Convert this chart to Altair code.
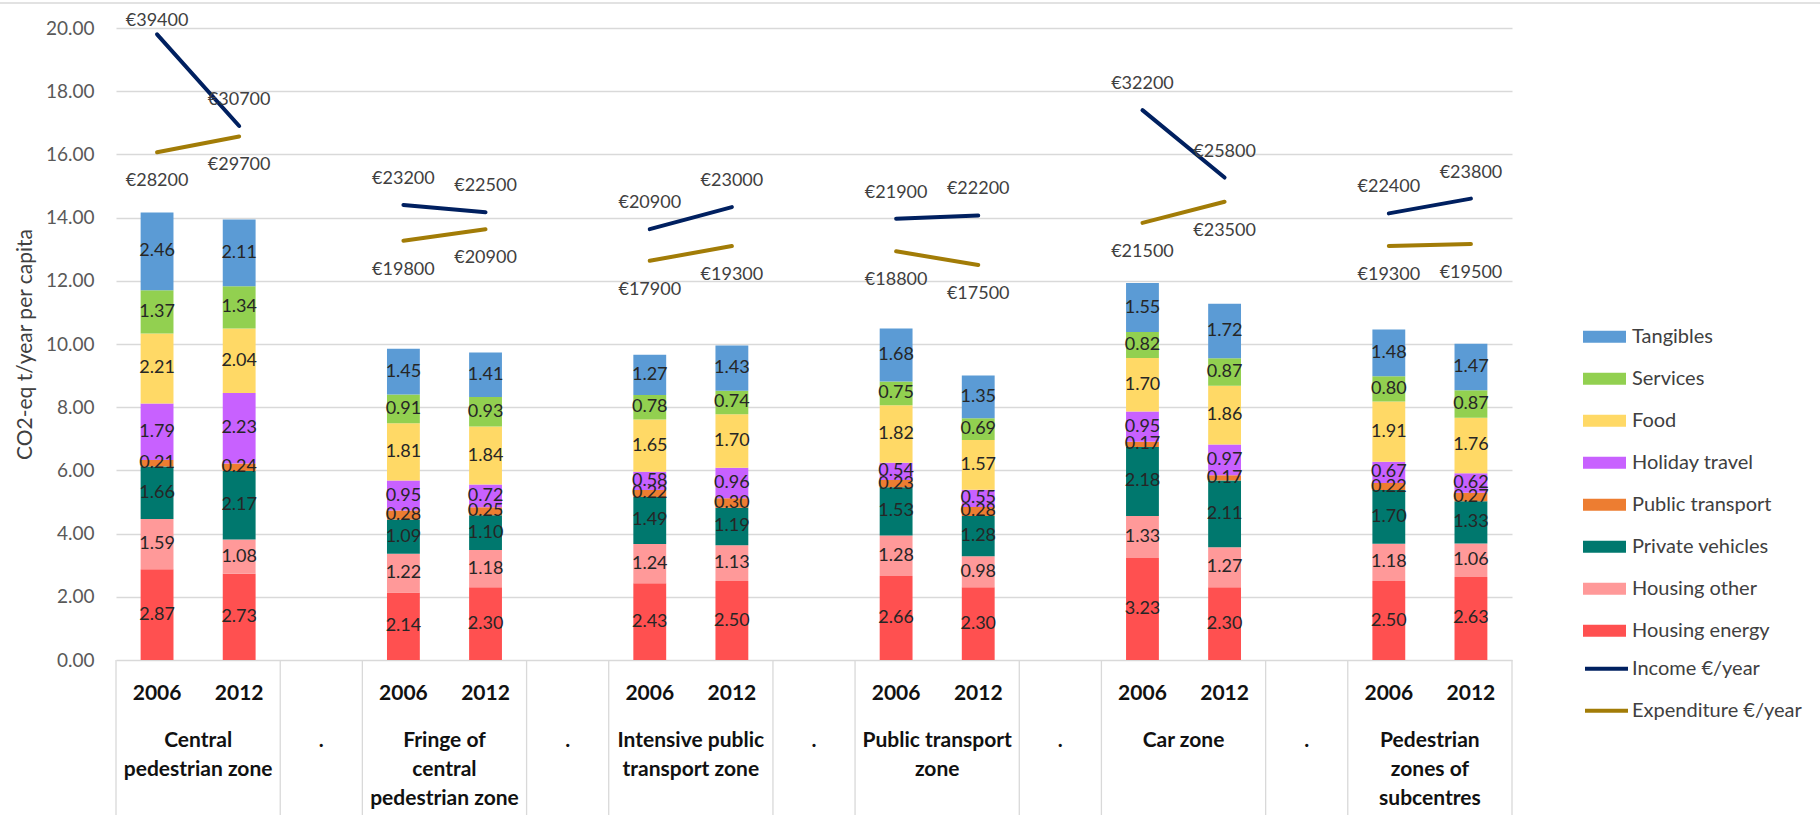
import altair as alt
import pandas as pd

# Zones (top-level categories) and survey years
zones = [
    "Central pedestrian zone",
    "Fringe of central pedestrian zone",
    "Intensive public transport zone",
    "Public transport zone",
    "Car zone",
    "Pedestrian zones of subcentres",
]
zone_labels = [
    "Central\npedestrian zone",
    "Fringe of\ncentral\npedestrian zone",
    "Intensive public\ntransport zone",
    "Public transport\nzone",
    "Car zone",
    "Pedestrian\nzones of\nsubcentres",
]
years = ["2006", "2012"]

# Consumption categories, stacked from the bottom up
categories = [
    "Housing energy", "Housing other", "Private vehicles", "Public transport",
    "Holiday travel", "Food", "Services", "Tangibles",
]
category_colors = [
    "#FF5050", "#FF9999", "#00786E", "#ED7D31",
    "#C861FF", "#FFD966", "#92D050", "#5B9BD5",
]

# CO2-eq t/year per capita, ordered zone by zone: 2006, 2012
housing_energy   = [2.87, 2.73, 2.14, 2.30, 2.43, 2.50, 2.66, 2.30, 3.23, 2.30, 2.50, 2.63]
housing_other    = [1.59, 1.08, 1.22, 1.18, 1.24, 1.13, 1.28, 0.98, 1.33, 1.27, 1.18, 1.06]
private_vehicles = [1.66, 2.17, 1.09, 1.10, 1.49, 1.19, 1.53, 1.28, 2.18, 2.11, 1.70, 1.33]
public_transport = [0.21, 0.24, 0.28, 0.25, 0.22, 0.30, 0.23, 0.28, 0.17, 0.17, 0.22, 0.27]
holiday_travel   = [1.79, 2.23, 0.95, 0.72, 0.58, 0.96, 0.54, 0.55, 0.95, 0.97, 0.67, 0.62]
food             = [2.21, 2.04, 1.81, 1.84, 1.65, 1.70, 1.82, 1.57, 1.70, 1.86, 1.91, 1.76]
services         = [1.37, 1.34, 0.91, 0.93, 0.78, 0.74, 0.75, 0.69, 0.82, 0.87, 0.80, 0.87]
tangibles        = [2.46, 2.11, 1.45, 1.41, 1.27, 1.43, 1.68, 1.35, 1.55, 1.72, 1.48, 1.47]
category_values = [housing_energy, housing_other, private_vehicles, public_transport,
                   holiday_travel, food, services, tangibles]

# Income and expenditure, euro per year
income      = [39400, 30700, 23200, 22500, 20900, 23000, 21900, 22200, 32200, 25800, 22400, 23800]
expenditure = [28200, 29700, 19800, 20900, 17900, 19300, 18800, 17500, 21500, 23500, 19300, 19500]
money_series = ["Income €/year", "Expenditure €/year"]
money_colors = ["#002060", "#A27C07"]

FONT = "Lato"

# One band per year column plus a "." spacer column between zones
col_keys = []
for i in range(len(zones)):
    col_keys += [f"{3 * i}|{years[0]}", f"{3 * i + 1}|{years[1]}"]
    if i < len(zones) - 1:
        col_keys.append(f"{3 * i + 2}|")
bar_cols = [k for k in col_keys if not k.endswith("|")]
spacer_cols = [k for k in col_keys if k.endswith("|")]

bar_rows = []
for idx, (cat, vals) in enumerate(zip(categories, category_values)):
    for col, v in zip(bar_cols, vals):
        bar_rows.append({"col": col, "cat": cat, "idx": idx, "value": v})
bars_df = pd.DataFrame(bar_rows)

money_rows = []
for series, vals in zip(money_series, [income, expenditure]):
    for j, (col, v) in enumerate(zip(bar_cols, vals)):
        money_rows.append({"col": col, "zone": zones[j // 2], "series": series, "eur": v})
money_df = pd.DataFrame(money_rows)

zone_df = pd.DataFrame({
    "first": bar_cols[0::2],
    "last": bar_cols[1::2],
    "label": zone_labels,
})
spacer_df = pd.DataFrame({"col": spacer_cols, "label": ["."] * len(spacer_cols)})

W, H = 1396, 632
x_scale = alt.Scale(domain=col_keys, paddingInner=0, paddingOuter=0)
y_scale = alt.Scale(domain=[0, 20], nice=False)
eur_scale = alt.Scale(domain=[-20000, 40000], nice=False)

x_enc = alt.X(
    "col:N", scale=x_scale, sort=col_keys,
    axis=alt.Axis(
        title=None, labelExpr="split(datum.value, '|')[1]", labelAngle=0,
        labelFont=FONT, labelFontSize=21, labelFontWeight="bold", labelColor="#111111",
        labelPadding=33, labelBaseline="middle", ticks=False, tickSize=0,
        domain=False, grid=False,
    ),
)

stacked = alt.Chart(bars_df).transform_stack(
    stack="value", groupby=["col"], sort=[alt.SortField("idx", order="ascending")],
    as_=["y0", "y1"],
)

bars = stacked.mark_bar(width=alt.RelativeBandSize(0.4)).encode(
    x=x_enc,
    y=alt.Y(
        "y0:Q", scale=y_scale,
        axis=alt.Axis(
            values=list(range(0, 21, 2)), format=".2f", title="CO2-eq t/year per capita",
            labelFont=FONT, labelFontSize=19, labelColor="#595959", labelPadding=22,
            ticks=False, domain=False, gridColor="#D9D9D9", gridWidth=1.3,
            titleFont=FONT, titleFontSize=21, titleFontWeight="normal",
            titleColor="#404040", titlePadding=10,
        ),
    ),
    y2="y1:Q",
    color=alt.Color(
        "cat:N",
        scale=alt.Scale(domain=categories[::-1], range=category_colors[::-1]),
        legend=alt.Legend(
            title=None, orient="none", legendX=1467, legendY=288, padding=0,
            symbolType="M-1,-0.28H1V0.28H-1Z", symbolSize=1849, symbolStrokeWidth=0,
            symbolOpacity=1, labelFont=FONT, labelFontSize=20, labelColor="#404040",
            labelOffset=6, rowPadding=0, clipHeight=41.5, labelLimit=300,
        ),
    ),
    order=alt.Order("idx:Q"),
)

bar_text = stacked.transform_calculate(
    mid="(datum.y0 + datum.y1) / 2",
    lbl="format(datum.value, '.2f')",
).mark_text(font=FONT, fontSize=18, color="#262626", baseline="middle").encode(
    x=alt.X("col:N", scale=x_scale),
    y=alt.Y("mid:Q", scale=y_scale, axis=None),
    text="lbl:N",
)

lines = alt.Chart(money_df).mark_line(strokeWidth=4, strokeCap="round").encode(
    x=alt.X("col:N", scale=x_scale),
    y=alt.Y("eur:Q", scale=eur_scale, axis=None),
    stroke=alt.Stroke(
        "series:N", scale=alt.Scale(domain=money_series, range=money_colors),
        legend=alt.Legend(
            title=None, orient="none", legendX=1467, legendY=620, padding=0,
            symbolType="stroke", symbolSize=1849, symbolStrokeWidth=4,
            labelFont=FONT, labelFontSize=20, labelColor="#404040",
            labelOffset=2, rowPadding=0, clipHeight=41.5, labelLimit=300,
        ),
    ),
    detail="zone:N",
)

# Value labels: income above its line, expenditure below; the top one is kept inside the chart
money_labels = alt.Chart(money_df).transform_calculate(
    lbl="'€' + datum.eur",
    anchor="min(datum.eur, 38200)",
)
income_text = money_labels.transform_filter(
    alt.datum.series == money_series[0]
).mark_text(font=FONT, fontSize=18, color="#404040", dy=-26, baseline="middle").encode(
    x=alt.X("col:N", scale=x_scale),
    y=alt.Y("anchor:Q", scale=eur_scale, axis=None),
    text="lbl:N",
)
expenditure_text = money_labels.transform_filter(
    alt.datum.series == money_series[1]
).mark_text(font=FONT, fontSize=18, color="#404040", dy=29, baseline="middle").encode(
    x=alt.X("col:N", scale=x_scale),
    y=alt.Y("anchor:Q", scale=eur_scale, axis=None),
    text="lbl:N",
)

# Category-axis table: zone names, spacer dots and separators
zone_text = alt.Chart(zone_df).mark_text(
    font=FONT, fontSize=21, fontWeight="bold", color="#111111",
    baseline="top", align="center", lineBreak="\n", lineHeight=29,
).encode(
    x=alt.X("first:N", scale=x_scale, bandPosition=1),
    y=alt.value(H + 70),
    text="label:N",
)
spacer_text = alt.Chart(spacer_df).mark_text(
    font=FONT, fontSize=21, fontWeight="bold", color="#111111", baseline="top",
).encode(
    x=alt.X("col:N", scale=x_scale),
    y=alt.value(H + 70),
    text="label:N",
)
sep_left = alt.Chart(zone_df).mark_rule(color="#D9D9D9", strokeWidth=1.3).encode(
    x=alt.X("first:N", scale=x_scale, bandPosition=0),
    y=alt.value(H), y2=alt.value(H + 155),
)
sep_right = alt.Chart(zone_df).mark_rule(color="#D9D9D9", strokeWidth=1.3).encode(
    x=alt.X("last:N", scale=x_scale, bandPosition=1),
    y=alt.value(H), y2=alt.value(H + 155),
)
frame_top = alt.Chart(pd.DataFrame({"edge": [0]})).mark_rule(
    color="#D9D9D9", strokeWidth=1.5
).encode(x=alt.value(-116), x2=alt.value(1704), y=alt.value(-25))

chart = alt.layer(
    bars, bar_text, lines, income_text, expenditure_text,
    zone_text, spacer_text, sep_left, sep_right, frame_top,
).resolve_scale(
    y="independent"
).properties(
    width=W, height=H,
    padding={"left": 116, "top": 28, "right": 1820 - 116 - W, "bottom": 819 - 28 - H},
    autosize=alt.AutoSizeParams(type="none"),
    background="white",
).configure_view(stroke=None)

chart.save("out.html", embed_options={"renderer": "svg", "actions": False})
